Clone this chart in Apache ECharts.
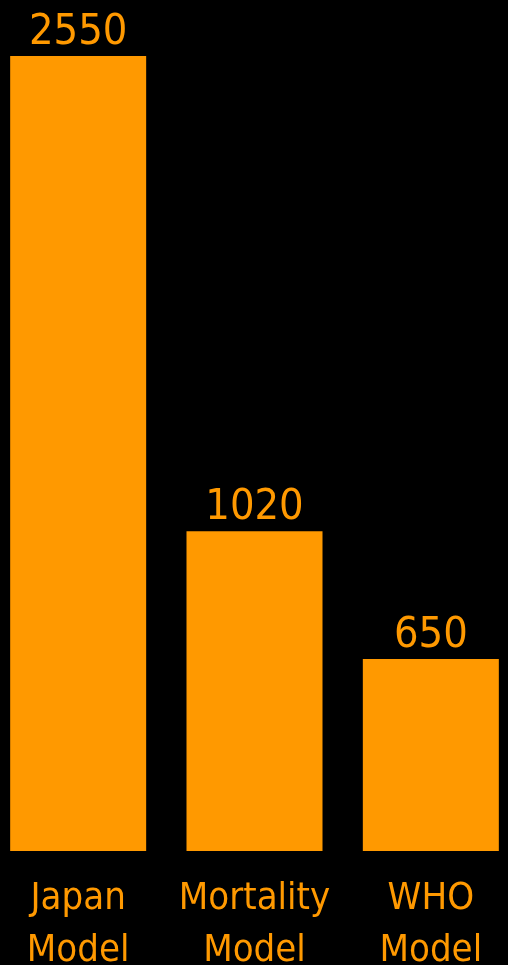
<!DOCTYPE html>
<html>
<head>
<meta charset="utf-8">
<script src="https://cdn.jsdelivr.net/npm/echarts@6/dist/echarts.min.js"></script>
<style>
html,body{margin:0;padding:0;background:#000;}
#c{width:508px;height:965px;}
</style>
</head>
<body>
<div id="c"></div>
<script>
var categories = ['Japan\nModel', 'Mortality\nModel', 'WHO\nModel'];
var values = [2550, 1026, 616];
var valueLabels = ['2550', '1020', '650'];

var FONT = '"Liberation Sans Narrow", "DejaVu Sans Condensed", sans-serif';
var chart = echarts.init(document.getElementById('c'));
chart.setOption({
  backgroundColor: '#000000',
  animation: false,
  grid: {left: -10, right: -11, top: 56, bottom: 114, outerBoundsMode: 'none', containLabel: false},
  xAxis: {
    type: 'category',
    data: categories,
    axisLine: {show: false},
    axisTick: {show: false},
    axisLabel: {
      interval: 0,
      color: '#FF9900',
      fontFamily: FONT,
      fontSize: 38,
      lineHeight: 52,
      margin: 22
    }
  },
  yAxis: {
    type: 'value',
    min: 0,
    max: 2550,
    show: false,
    splitLine: {show: false}
  },
  series: [{
    type: 'bar',
    data: values,
    barWidth: 136,
    itemStyle: {color: '#FF9900'},
    label: {
      show: true,
      position: 'top',
      distance: 2,
      color: '#FF9900',
      fontFamily: FONT,
      fontSize: 43,
      formatter: function (p) { return valueLabels[p.dataIndex]; }
    }
  }]
});
</script>
</body>
</html>
